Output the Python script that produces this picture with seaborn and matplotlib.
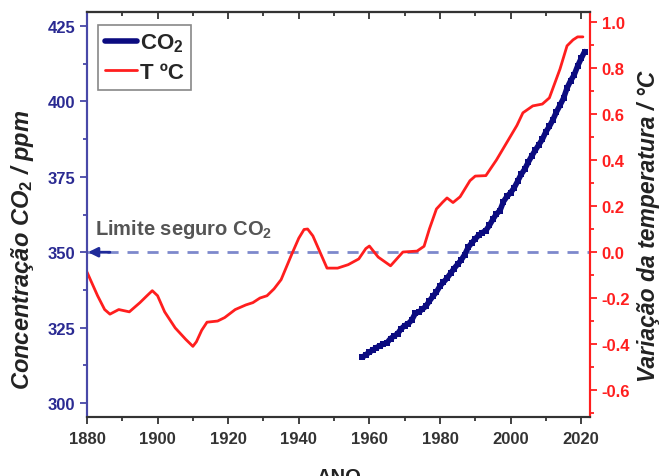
import matplotlib
matplotlib.use("Agg")
import matplotlib.pyplot as plt
import seaborn as sns
from matplotlib.lines import Line2D
from matplotlib.ticker import MultipleLocator

# ---------------- data ----------------
co2_years = list(range(1958, 2022))
co2_ppm = [315.2, 316.0, 316.9, 317.6, 318.4, 319.0, 319.6, 320.0, 321.4, 322.2,
           323.0, 324.6, 325.7, 326.3, 327.5, 329.7, 330.2, 331.1, 332.1, 333.8,
           335.4, 336.8, 338.8, 340.1, 341.4, 343.0, 344.6, 346.0, 347.4, 349.2,
           351.6, 353.1, 354.4, 355.7, 356.5, 357.2, 358.9, 360.9, 362.7, 363.8,
           366.8, 368.5, 369.7, 371.3, 373.5, 375.8, 377.5, 379.8, 381.9, 383.8,
           385.6, 387.4, 389.9, 391.7, 393.9, 396.5, 398.7, 401.0, 404.4, 406.8,
           408.7, 411.7, 414.2, 416.5]

temp_years = [1880, 1883, 1885, 1886.5, 1889, 1892, 1895, 1897, 1898.5, 1900,
              1902, 1905, 1908, 1910, 1911, 1912.5, 1914, 1917, 1919, 1922, 1925,
              1927, 1929, 1931, 1933, 1935, 1938, 1940, 1941.5, 1942.5, 1944, 1946,
              1948, 1951, 1954, 1957, 1959, 1960, 1962.5, 1966, 1969.5, 1973.5,
              1975.5, 1977, 1979, 1980.8, 1982, 1983.7, 1985.7, 1988.5, 1990,
              1993, 1996, 2001.8, 2003.5, 2006.3, 2009, 2011, 2014, 2016, 2017.7,
              2019, 2020.5]
temp_anom = [-0.087, -0.19, -0.25, -0.27, -0.25, -0.26, -0.22, -0.19, -0.168, -0.19,
             -0.26, -0.33, -0.38, -0.41, -0.39, -0.34, -0.305, -0.30, -0.285, -0.25,
             -0.23, -0.22, -0.20, -0.19, -0.16, -0.12, -0.01, 0.06, 0.098, 0.10,
             0.07, 0.0, -0.07, -0.07, -0.055, -0.03, 0.015, 0.026, -0.022, -0.06,
             0.0, 0.004, 0.025, 0.10, 0.187, 0.217, 0.235, 0.215, 0.24, 0.31,
             0.33, 0.332, 0.40, 0.55, 0.605, 0.635, 0.643, 0.67, 0.795, 0.896,
             0.922, 0.935, 0.935]

safe_limit = 350
left_ticks = [300, 325, 350, 375, 400, 425]
right_ticks = [-0.6, -0.4, -0.2, 0.0, 0.2, 0.4, 0.6, 0.8, 1.0]
x_ticks = [1880, 1900, 1920, 1940, 1960, 1980, 2000, 2020]

# ---------------- style ----------------
sns.set_style("ticks")
plt.rcParams["font.family"] = ["Liberation Sans", "DejaVu Sans"]
plt.rcParams["font.weight"] = "bold"
plt.rcParams["mathtext.fontset"] = "custom"
plt.rcParams["mathtext.rm"] = "Liberation Sans:bold"
plt.rcParams["mathtext.bf"] = "Liberation Sans:bold"
plt.rcParams["mathtext.it"] = "Liberation Sans:italic:bold"

NAVY = "#0b0b80"
BLUE_AX = "#4848a8"
BLUE_TXT = "#2a2a92"
RED = "#ff1e1e"
DASH = "#7d89cc"

fig = plt.figure(figsize=(6.62, 4.77), dpi=100)
fig.patch.set_facecolor("white")
ax = fig.add_axes([0.1314, 0.1237, 0.7598, 0.8490])
ax2 = ax.twinx()

# CO2 on left axis
sns.lineplot(x=co2_years, y=co2_ppm, ax=ax, color=NAVY, lw=4,
             marker="s", markersize=4, markeredgewidth=0, legend=False)
# temperature on right axis
sns.lineplot(x=temp_years, y=temp_anom, ax=ax2, color=RED, lw=2, legend=False)

ax.axhline(safe_limit, ls=(0, (4, 3.2)), color=DASH, lw=2, zorder=1)
ax.annotate("", xy=(1880.3, safe_limit), xytext=(1886.5, safe_limit),
            arrowprops=dict(arrowstyle="-|>", color="#1f2a99", lw=2,
                            mutation_scale=14, shrinkA=0, shrinkB=0))
ax.text(1882.3, 357.8, r"Limite seguro CO$_\mathbf{2}$", color="#555555",
        fontsize=14.5, fontweight="bold", va="center", ha="left")

# limits
ax.set_xlim(1880, 2022.5)
ax.set_ylim(295.4, 429.6)
ax2.set_ylim(-0.717, 1.043)

# ticks
ax.set_xticks(x_ticks)
ax.xaxis.set_minor_locator(MultipleLocator(10))
ax.set_yticks(left_ticks)
ax.yaxis.set_minor_locator(MultipleLocator(12.5))
ax2.set_yticks(right_ticks)
ax2.set_yticklabels([f"{v:.1f}" for v in right_ticks])
ax2.yaxis.set_minor_locator(MultipleLocator(0.1))

ax.tick_params(axis="x", which="both", direction="out", colors="#333333",
               labelsize=12, width=1.3, pad=5)
ax.tick_params(axis="x", which="major", length=5)
ax.tick_params(axis="x", which="minor", length=3)
ax.tick_params(axis="y", which="both", direction="out", color=BLUE_AX,
               labelcolor=BLUE_TXT, labelsize=12, width=1.3)
ax.tick_params(axis="y", which="major", length=5)
ax.tick_params(axis="y", which="minor", length=3)
ax2.tick_params(axis="y", which="both", direction="out", color=RED,
                labelcolor=RED, labelsize=12, width=1.3)
ax2.tick_params(axis="y", which="major", length=5)
ax2.tick_params(axis="y", which="minor", length=3)
for lab in ax.get_xticklabels() + ax.get_yticklabels() + ax2.get_yticklabels():
    lab.set_fontweight("bold")

# top axis with inward ticks
top = ax.secondary_xaxis("top")
top.set_xticks(x_ticks)
top.xaxis.set_minor_locator(MultipleLocator(10))
top.tick_params(which="both", direction="in", labeltop=False, color="#333333", width=1.3)
top.tick_params(which="major", length=5)
top.tick_params(which="minor", length=3)

# spines
for a in (ax, ax2):
    for s in a.spines.values():
        s.set_linewidth(1.5)
        s.set_visible(True)
    a.spines["top"].set_color("#333333")
    a.spines["bottom"].set_color("#333333")
    a.spines["left"].set_color(BLUE_AX)
    a.spines["right"].set_color(RED)
top.spines["top"].set_color("#333333")
top.spines["top"].set_linewidth(1.5)

# labels
ax.set_xlabel("ANO", fontsize=14.5, fontweight="bold", color="#222222")
ax.xaxis.set_label_coords(0.5, -0.148)
ax.xaxis.label.set_va("center")
ax.set_ylabel(r"Concentração CO$_\mathbf{2}$ / ppm", fontsize=17,
              fontweight="bold", fontstyle="italic", color="#222222")
ax.yaxis.set_label_coords(-0.128, 0.415)
ax.yaxis.label.set_va("center")
ax2.set_ylabel("Variação da temperatura / °C", fontsize=16.5, fontweight="bold",
               fontstyle="italic", color="#222222", rotation=90)
ax2.yaxis.set_label_coords(1.117, 0.474)
ax2.yaxis.label.set_va("center")

# legend
handles = [Line2D([], [], color=NAVY, lw=4),
           Line2D([], [], color=RED, lw=2)]
leg = ax2.legend(handles, [r"CO$_\mathbf{2}$", "T ºC"], loc="upper left",
                 bbox_to_anchor=(0.022, 0.968), borderaxespad=0,
                 prop={"size": 16, "weight": "bold"}, handlelength=1.45,
                 handletextpad=0.15, fancybox=False, framealpha=1,
                 edgecolor="#888888", borderpad=0.3, labelspacing=0.35)
leg.get_frame().set_linewidth(1.2)

fig.savefig("out.png", dpi=100, facecolor="white")
